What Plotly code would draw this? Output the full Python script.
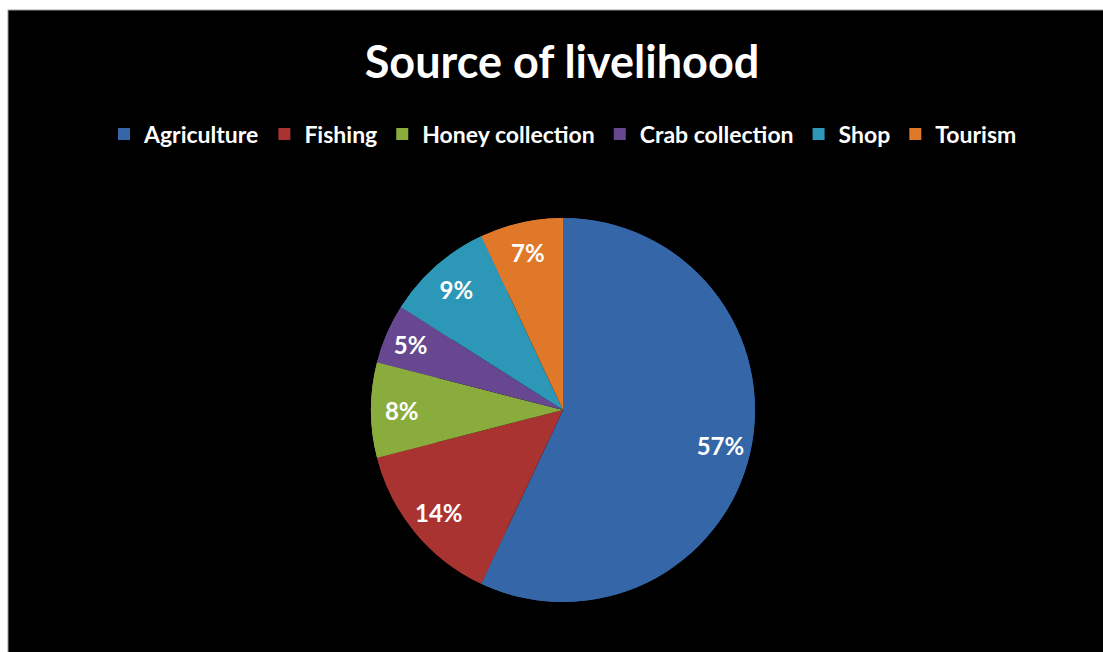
import plotly.graph_objects as go

# Share of households by main source of livelihood (%)
categories = ["Agriculture", "Fishing", "Honey collection", "Crab collection", "Shop", "Tourism"]
shares = [57, 14, 8, 5, 9, 7]
slice_colors = ["#3466a8", "#a93330", "#8aac3d", "#674890", "#2c97b6", "#e0782a"]

W, H = 1103, 652
pie_domain = dict(x=[(563 - 192) / W, (563 + 192) / W],
                  y=[(242 - 192) / H, (242 + 192) / H])

common = dict(
    labels=categories,
    values=shares,
    sort=False,
    direction="clockwise",
    rotation=0,
    marker=dict(colors=slice_colors, line=dict(width=0)),
    domain=pie_domain,
)

fig = go.Figure()
# full pie underneath (carries the legend)
fig.add_trace(go.Pie(**common, textinfo="none", hoverinfo="label+percent"))
# same slices as an outer ring on top, so the percentage labels sit near the rim
fig.add_trace(go.Pie(
    **common,
    hole=0.68,
    showlegend=False,
    texttemplate="%{value}%",
    textposition="inside",
    insidetextorientation="horizontal",
    textfont=dict(family="Lato", size=24, color="white", weight="bold"),
    hoverinfo="label+percent",
))

fig.update_layout(
    width=W,
    height=H,
    margin=dict(l=0, r=0, t=0, b=0),
    paper_bgcolor="black",
    plot_bgcolor="black",
    title=dict(
        text="<b>Source of livelihood</b>",
        font=dict(family="Lato", size=45, color="white"),
        x=562 / W,
        xanchor="center",
        y=(H - 62) / H,
        yanchor="middle",
    ),
    legend=dict(
        orientation="h",
        x=563 / W,
        xanchor="center",
        y=(H - 134) / H,
        yanchor="middle",
        font=dict(family="Lato", size=23, color="white", weight="bold"),
        itemwidth=30,
        traceorder="normal",
        bgcolor="rgba(0,0,0,0)",
    ),
    shapes=[
        # white page margin on the left and top of the chart frame
        dict(type="rect", xref="paper", yref="paper", x0=0, x1=8 / W, y0=0, y1=1,
             fillcolor="white", line=dict(width=0), layer="above"),
        dict(type="rect", xref="paper", yref="paper", x0=0, x1=1, y0=(H - 10) / H, y1=1,
             fillcolor="white", line=dict(width=0), layer="above"),
        dict(type="line", xref="paper", yref="paper", x0=8 / W, x1=8 / W, y0=0, y1=(H - 10) / H,
             line=dict(color="#9a9a9a", width=1), layer="above"),
        dict(type="line", xref="paper", yref="paper", x0=8 / W, x1=1, y0=(H - 10) / H, y1=(H - 10) / H,
             line=dict(color="#9a9a9a", width=1), layer="above"),
    ],
)

fig.write_html("out.html")
